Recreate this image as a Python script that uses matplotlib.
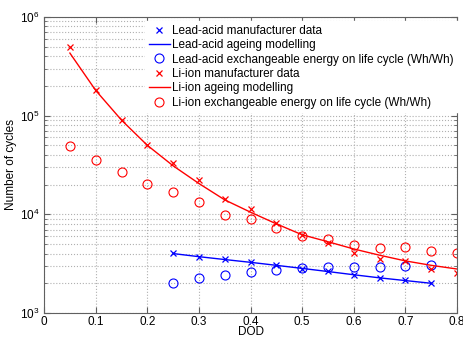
import matplotlib
matplotlib.use("Agg")
import matplotlib.pyplot as plt
from matplotlib.ticker import LogLocator, NullFormatter

plt.rcParams['font.family'] = ['Liberation Sans', 'DejaVu Sans']

# DOD values
dod_pb = [0.25, 0.30, 0.35, 0.40, 0.45, 0.50, 0.55, 0.60, 0.65, 0.70, 0.75]
dod_li = [0.05, 0.10, 0.15, 0.20, 0.25, 0.30, 0.35, 0.40, 0.45, 0.50,
          0.55, 0.60, 0.65, 0.70, 0.75, 0.80]

# lead-acid
pb_manuf = [4060, 3720, 3500, 3270, 3040, 2790, 2640, 2440, 2280, 2140, 2030]
pb_model = [4000, 3720, 3480, 3260, 3040, 2830, 2630, 2440, 2270, 2130, 2000]
pb_energy = [2000, 2250, 2440, 2580, 2730, 2840, 2900, 2900, 2950, 2970, 3060]

# Li-ion
li_manuf = [500000, 182000, 90000, 50000, 32900, 22000, 14200, 11200, 8100,
            6100, 5150, 4080, 3550, 3340, 2810, 2560]
li_model = [430000, 180000, 90000, 50000, 31000, 20500, 14000, 10500, 8000,
            6200, 5270, 4450, 3850, 3370, 3040, 2790]
li_energy = [49500, 35200, 26800, 20300, 16700, 13300, 9900, 8900, 7200,
             6070, 5580, 4850, 4590, 4630, 4280, 4060]

fig = plt.figure(figsize=(4.64, 3.38), dpi=100)
ax = fig.add_axes([0.095, 0.074, 0.89, 0.876])

ax.semilogy(dod_pb, pb_manuf, 'x', color='blue', ms=4, mew=0.9,
            label='Lead-acid manufacturer data')
ax.semilogy(dod_pb, pb_model, '-', color='blue', lw=1,
            label='Lead-acid ageing modelling')
ax.semilogy(dod_pb, pb_energy, 'o', color='blue', ms=6.5, mfc='none', mew=0.8,
            label='Lead-acid exchangeable energy on life cycle (Wh/Wh)')
ax.semilogy(dod_li, li_manuf, 'x', color='red', ms=4, mew=0.9,
            label='Li-ion manufacturer data')
ax.semilogy(dod_li, li_model, '-', color='red', lw=1,
            label='Li-ion ageing modelling')
ax.semilogy(dod_li, li_energy, 'o', color='red', ms=6.5, mfc='none', mew=0.8,
            label='Li-ion exchangeable energy on life cycle (Wh/Wh)')

ax.set_xlim(0, 0.8)
ax.set_ylim(1e3, 1e6)
ax.set_xticks([0, 0.1, 0.2, 0.3, 0.4, 0.5, 0.6, 0.7, 0.8])
ax.set_xticklabels(['0', '0.1', '0.2', '0.3', '0.4', '0.5', '0.6', '0.7', '0.8'])
ax.yaxis.set_minor_locator(LogLocator(base=10, subs=range(2, 10)))
ax.yaxis.set_minor_formatter(NullFormatter())

ax.grid(True, which='major', linestyle=':', color='#b0b0b0', lw=0.8)
ax.grid(True, which='minor', axis='y', linestyle=':', color='#b0b0b0', lw=0.8)
ax.tick_params(which='both', direction='in', top=True, right=True,
               labelsize=8.5, color='#606060')
ax.tick_params(axis='x', pad=2)
ax.tick_params(which='major', length=4)
ax.tick_params(which='minor', length=2)
for s in ax.spines.values():
    s.set_color('#606060')
    s.set_linewidth(0.8)

ax.set_xlabel('DOD', fontsize=8.5, labelpad=-1)
ax.set_ylabel('Number of cycles', fontsize=8.5, labelpad=2)

leg = ax.legend(loc='upper left', bbox_to_anchor=(0.245, 0.985),
                fontsize=8.5, frameon=True, framealpha=1,
                edgecolor='white', fancybox=False, borderaxespad=0,
                borderpad=0.3, handlelength=1.8, handletextpad=0.2,
                labelspacing=0.2)

fig.savefig('out.png', dpi=100)
